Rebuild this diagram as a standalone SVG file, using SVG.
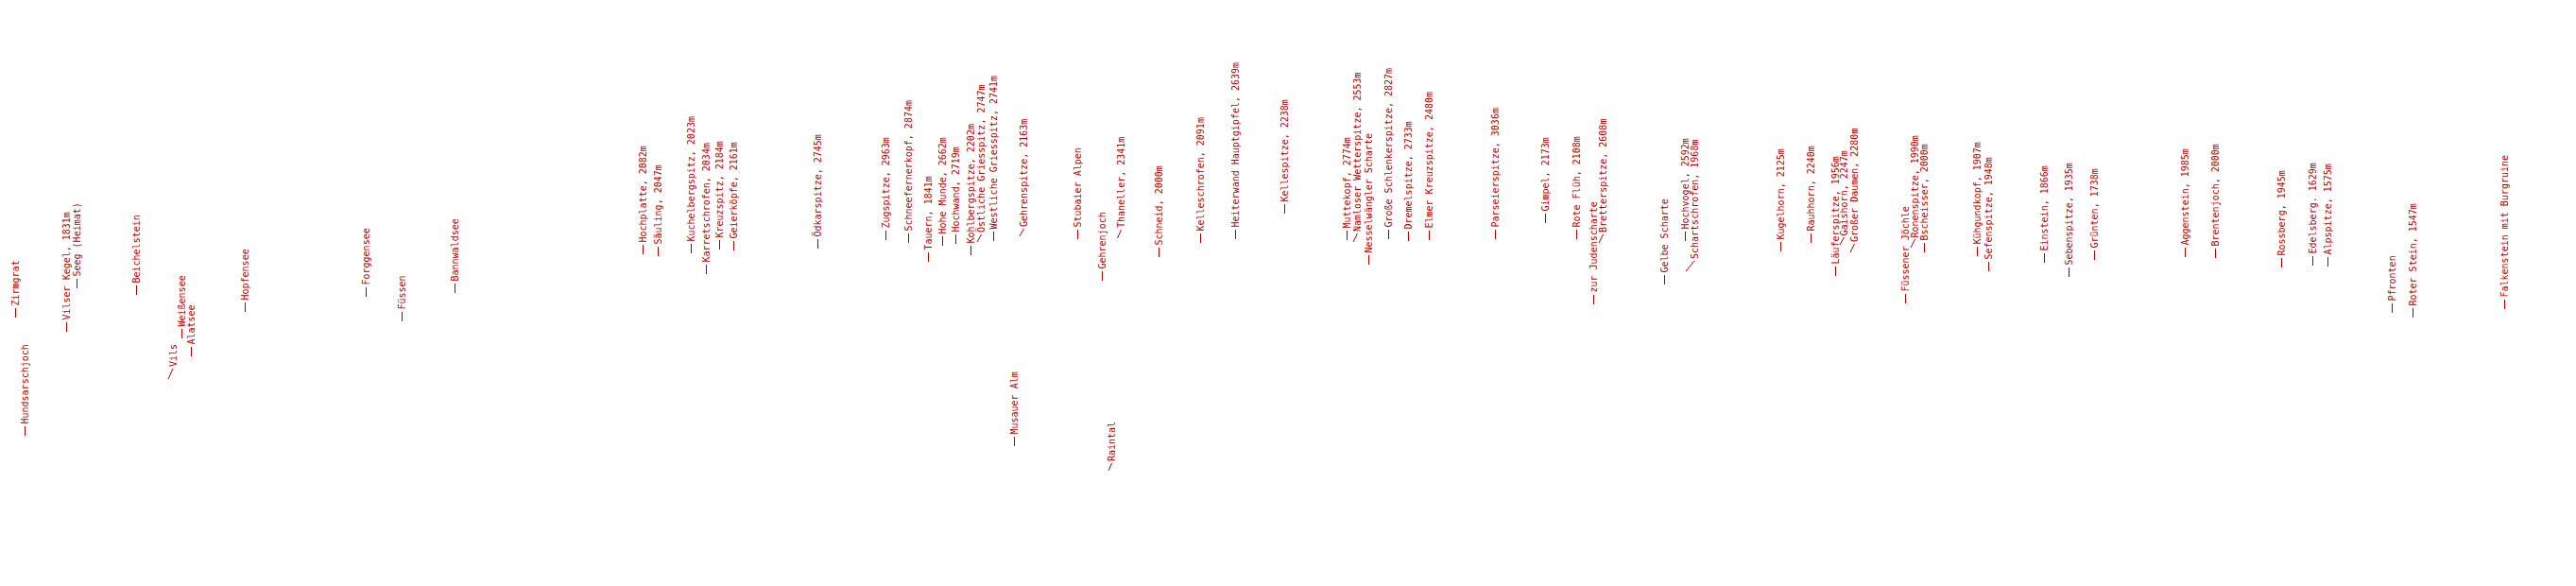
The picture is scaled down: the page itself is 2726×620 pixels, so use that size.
<svg xmlns="http://www.w3.org/2000/svg" width="2726" height="620" viewBox="0 0 2726 620">
<style>
.l{font-family:"DejaVu Sans Mono","Liberation Mono",monospace;font-size:10px;fill:#b00000}
.c line{stroke:#b00000;stroke-width:1}
</style>
<rect width="2726" height="620" fill="#fff"/>
<g id="connectors" class="c">
<line x1="16.5" y1="336" x2="16.5" y2="326"/>
<line x1="26.5" y1="461" x2="26.5" y2="451"/>
<line x1="70.5" y1="351" x2="70.5" y2="341"/>
<line x1="81.5" y1="305" x2="81.5" y2="295"/>
<line x1="144.5" y1="312" x2="144.5" y2="302"/>
<line x1="192.5" y1="358" x2="192.5" y2="348"/>
<line x1="202.5" y1="377" x2="202.5" y2="367"/>
<line x1="178" y1="401" x2="183" y2="390"/>
<line x1="259.5" y1="330" x2="259.5" y2="320"/>
<line x1="387.5" y1="314" x2="387.5" y2="304"/>
<line x1="425.5" y1="340" x2="425.5" y2="330"/>
<line x1="481.5" y1="310" x2="481.5" y2="300"/>
<line x1="680.5" y1="269" x2="680.5" y2="259"/>
<line x1="696.5" y1="271" x2="696.5" y2="261"/>
<line x1="731.5" y1="268" x2="731.5" y2="258"/>
<line x1="747.5" y1="290" x2="747.5" y2="280"/>
<line x1="761.5" y1="264" x2="761.5" y2="254"/>
<line x1="776.5" y1="265" x2="776.5" y2="255"/>
<line x1="865.5" y1="263" x2="865.5" y2="253"/>
<line x1="937.5" y1="254" x2="937.5" y2="244"/>
<line x1="961.5" y1="257" x2="961.5" y2="247"/>
<line x1="982.5" y1="277" x2="982.5" y2="267"/>
<line x1="997.5" y1="260" x2="997.5" y2="250"/>
<line x1="1011.5" y1="258" x2="1011.5" y2="248"/>
<line x1="1027.5" y1="270" x2="1027.5" y2="260"/>
<line x1="1034" y1="256" x2="1038.5" y2="248"/>
<line x1="1051.5" y1="255" x2="1051.5" y2="245"/>
<line x1="1079" y1="250" x2="1083.5" y2="242"/>
<line x1="1073.5" y1="472" x2="1073.5" y2="462"/>
<line x1="1140.5" y1="253" x2="1140.5" y2="243"/>
<line x1="1166.5" y1="297" x2="1166.5" y2="287"/>
<line x1="1182.5" y1="252" x2="1186.5" y2="243"/>
<line x1="1173" y1="498" x2="1176.5" y2="490"/>
<line x1="1226.5" y1="272" x2="1226.5" y2="262"/>
<line x1="1270.5" y1="257" x2="1270.5" y2="247"/>
<line x1="1307.5" y1="253" x2="1307.5" y2="243"/>
<line x1="1359.5" y1="226" x2="1359.5" y2="216"/>
<line x1="1425.5" y1="254" x2="1425.5" y2="244"/>
<line x1="1432" y1="256" x2="1436.5" y2="247"/>
<line x1="1448.5" y1="280" x2="1448.5" y2="270"/>
<line x1="1469.5" y1="253" x2="1469.5" y2="243"/>
<line x1="1490.5" y1="255" x2="1490.5" y2="245"/>
<line x1="1512.5" y1="254" x2="1512.5" y2="244"/>
<line x1="1582.5" y1="253" x2="1582.5" y2="243"/>
<line x1="1635.5" y1="236" x2="1635.5" y2="226"/>
<line x1="1668.5" y1="253" x2="1668.5" y2="243"/>
<line x1="1686.5" y1="322" x2="1686.5" y2="312"/>
<line x1="1692" y1="257" x2="1696.5" y2="248"/>
<line x1="1761.5" y1="301" x2="1761.5" y2="291"/>
<line x1="1783.5" y1="255" x2="1783.5" y2="245"/>
<line x1="1784" y1="287" x2="1793" y2="276"/>
<line x1="1884.5" y1="266" x2="1884.5" y2="256"/>
<line x1="1916.5" y1="257" x2="1916.5" y2="247"/>
<line x1="1942.5" y1="292" x2="1942.5" y2="282"/>
<line x1="1947" y1="259" x2="1951.5" y2="251"/>
<line x1="1958" y1="267" x2="1962.5" y2="258"/>
<line x1="2016.5" y1="321" x2="2016.5" y2="311"/>
<line x1="2022" y1="262" x2="2026.5" y2="253"/>
<line x1="2036.5" y1="267" x2="2036.5" y2="257"/>
<line x1="2092.5" y1="271" x2="2092.5" y2="261"/>
<line x1="2104.5" y1="287" x2="2104.5" y2="277"/>
<line x1="2163.5" y1="278" x2="2163.5" y2="268"/>
<line x1="2189.5" y1="293" x2="2189.5" y2="283"/>
<line x1="2216.5" y1="275" x2="2216.5" y2="265"/>
<line x1="2312.5" y1="272" x2="2312.5" y2="262"/>
<line x1="2344.5" y1="273" x2="2344.5" y2="263"/>
<line x1="2414.5" y1="283" x2="2414.5" y2="273"/>
<line x1="2447.5" y1="281" x2="2447.5" y2="271"/>
<line x1="2463.5" y1="282" x2="2463.5" y2="272"/>
<line x1="2531.5" y1="331" x2="2531.5" y2="321"/>
<line x1="2553.5" y1="336" x2="2553.5" y2="326"/>
<line x1="2650.5" y1="327" x2="2650.5" y2="317"/>
</g>
<g id="labels" class="l">
<g id="n1"><text transform="translate(20,323.5) rotate(-90)">Zirmgrat</text></g>
<g id="n2"><text transform="translate(30.2,448.5) rotate(-90)">Hundsarschjoch</text></g>
<g id="n3"><text transform="translate(74.2,338.5) rotate(-90)">Vilser Kegel, 1831m</text></g>
<g id="n4"><text transform="translate(84.7,292.5) rotate(-90)">Seeg (Heimat)</text></g>
<g id="n5"><text transform="translate(147.7,299.5) rotate(-90)">Beichelstein</text></g>
<g id="n6"><text transform="translate(196.2,345.5) rotate(-90)">Weißensee</text></g>
<g id="n7"><text transform="translate(206.2,364.5) rotate(-90)">Alatsee</text></g>
<g id="n8"><text transform="translate(186.5,388) rotate(-90)">Vils</text></g>
<g id="n9"><text transform="translate(263,317.5) rotate(-90)">Hopfensee</text></g>
<g id="n10"><text transform="translate(391.2,301.5) rotate(-90)">Forggensee</text></g>
<g id="n11"><text transform="translate(429,327.5) rotate(-90)">Füssen</text></g>
<g id="n12"><text transform="translate(485.2,297.5) rotate(-90)">Bannwaldsee</text></g>
<g id="n13"><text transform="translate(684,256.5) rotate(-90)">Hochplatte, 2082m</text></g>
<g id="n14"><text transform="translate(700.2,258.5) rotate(-90)">Säuling, 2047m</text></g>
<g id="n15"><text transform="translate(735,255.5) rotate(-90)">Kuchelbergspitz, 2023m</text></g>
<g id="n16"><text transform="translate(751,277.5) rotate(-90)">Karretschrofen, 2034m</text></g>
<g id="n17"><text transform="translate(765,251.5) rotate(-90)">Kreuzspitz, 2184m</text></g>
<g id="n18"><text transform="translate(780,252.5) rotate(-90)">Geierköpfe, 2161m</text></g>
<g id="n19"><text transform="translate(869,250.5) rotate(-90)">Ödkarspitze, 2745m</text></g>
<g id="n20"><text transform="translate(941.2,241.5) rotate(-90)">Zugspitze, 2963m</text></g>
<g id="n21"><text transform="translate(965.2,244.5) rotate(-90)">Schneefernerkopf, 2874m</text></g>
<g id="n22"><text transform="translate(986.2,264.5) rotate(-90)">Tauern, 1841m</text></g>
<g id="n23"><text transform="translate(1001.2,247.5) rotate(-90)">Hohe Munde, 2662m</text></g>
<g id="n24"><text transform="translate(1015,245.5) rotate(-90)">Hochwand, 2719m</text></g>
<g id="n25"><text transform="translate(1031.2,257.5) rotate(-90)">Kohlbergspitze, 2202m</text></g>
<g id="n26"><text transform="translate(1042,246) rotate(-90)">Östliche Griesspitz, 2747m</text></g>
<g id="n27"><text transform="translate(1055,242.5) rotate(-90)">Westliche Griesspitz, 2741m</text></g>
<g id="n28"><text transform="translate(1087,240) rotate(-90)">Gehrenspitze, 2163m</text></g>
<g id="n29"><text transform="translate(1077,459.5) rotate(-90)">Musauer Alm</text></g>
<g id="n30"><text transform="translate(1144.2,240.5) rotate(-90)">Stubaier Alpen</text></g>
<g id="n31"><text transform="translate(1170.2,284.5) rotate(-90)">Gehrenjoch</text></g>
<g id="n32"><text transform="translate(1190,241) rotate(-90)">Thaneller, 2341m</text></g>
<g id="n33"><text transform="translate(1180,488) rotate(-90)">Raintal</text></g>
<g id="n34"><text transform="translate(1230.2,259.5) rotate(-90)">Schneid, 2000m</text></g>
<g id="n35"><text transform="translate(1274.2,244.5) rotate(-90)">Kelleschrofen, 2091m</text></g>
<g id="n36"><text transform="translate(1311,240.5) rotate(-90)">Heiterwand Hauptgipfel, 2639m</text></g>
<g id="n37"><text transform="translate(1363,213.5) rotate(-90)">Kellespitze, 2238m</text></g>
<g id="n38"><text transform="translate(1429.2,241.5) rotate(-90)">Muttekopf, 2774m</text></g>
<g id="n39"><text transform="translate(1440,245) rotate(-90)">Namloser Wetterspitze, 2553m</text></g>
<g id="n40"><text transform="translate(1452,267.5) rotate(-90)">Nesselwängler Scharte</text></g>
<g id="n41"><text transform="translate(1473,240.5) rotate(-90)">Große Schlenkerspitze, 2827m</text></g>
<g id="n42"><text transform="translate(1493.7,242.5) rotate(-90)">Dremelspitze, 2733m</text></g>
<g id="n43"><text transform="translate(1516.2,241.5) rotate(-90)">Elmer Kreuzspitze, 2480m</text></g>
<g id="n44"><text transform="translate(1586.2,240.5) rotate(-90)">Parseierspitze, 3036m</text></g>
<g id="n45"><text transform="translate(1638.7,223.5) rotate(-90)">Gimpel, 2173m</text></g>
<g id="n46"><text transform="translate(1672,240.5) rotate(-90)">Rote Flüh, 2108m</text></g>
<g id="n47"><text transform="translate(1690.2,309.5) rotate(-90)">zur Judenscharte</text></g>
<g id="n48"><text transform="translate(1700,246) rotate(-90)">Bretterspitze, 2608m</text></g>
<g id="n49"><text transform="translate(1765.2,288.5) rotate(-90)">Gelbe Scharte</text></g>
<g id="n50"><text transform="translate(1787,242.5) rotate(-90)">Hochvogel, 2592m</text></g>
<g id="n51"><text transform="translate(1797,274) rotate(-90)">Schartschrofen, 1968m</text></g>
<g id="n52"><text transform="translate(1887.7,253.5) rotate(-90)">Kugelhorn, 2125m</text></g>
<g id="n53"><text transform="translate(1919.7,244.5) rotate(-90)">Rauhhorn, 2240m</text></g>
<g id="n54"><text transform="translate(1946.2,279.5) rotate(-90)">Läuferspitze, 1956m</text></g>
<g id="n55"><text transform="translate(1955,249.5) rotate(-90)">Gaishorn, 2247m</text></g>
<g id="n56"><text transform="translate(1966.2,256) rotate(-90)">Großer Daumen, 2280m</text></g>
<g id="n57"><text transform="translate(2019.7,308.5) rotate(-90)">Füssener Jöchle</text></g>
<g id="n58"><text transform="translate(2030,251.5) rotate(-90)">Ronenspitze, 1990m</text></g>
<g id="n59"><text transform="translate(2040.2,254.5) rotate(-90)">Bscheisser, 2000m</text></g>
<g id="n60"><text transform="translate(2096.2,258.5) rotate(-90)">Kühgundkopf, 1907m</text></g>
<g id="n61"><text transform="translate(2108,274.5) rotate(-90)">Sefenspitze, 1948m</text></g>
<g id="n62"><text transform="translate(2167,265.5) rotate(-90)">Einstein, 1866m</text></g>
<g id="n63"><text transform="translate(2193,280.5) rotate(-90)">Sebenspitze, 1935m</text></g>
<g id="n64"><text transform="translate(2220.2,262.5) rotate(-90)">Grünten, 1738m</text></g>
<g id="n65"><text transform="translate(2316,259.5) rotate(-90)">Aggenstein, 1985m</text></g>
<g id="n66"><text transform="translate(2348,260.5) rotate(-90)">Brentenjoch, 2000m</text></g>
<g id="n67"><text transform="translate(2418,270.5) rotate(-90)">Rossberg, 1945m</text></g>
<g id="n68"><text transform="translate(2451.2,268.5) rotate(-90)">Edelsberg. 1629m</text></g>
<g id="n69"><text transform="translate(2467,269.5) rotate(-90)">Alpspitze, 1575m</text></g>
<g id="n70"><text transform="translate(2535.2,318.5) rotate(-90)">Pfronten</text></g>
<g id="n71"><text transform="translate(2557,323.5) rotate(-90)">Roter Stein, 1547m</text></g>
<g id="n72"><text transform="translate(2654.2,314.5) rotate(-90)">Falkenstein mit Burgruine</text></g>
</g>
</svg>
